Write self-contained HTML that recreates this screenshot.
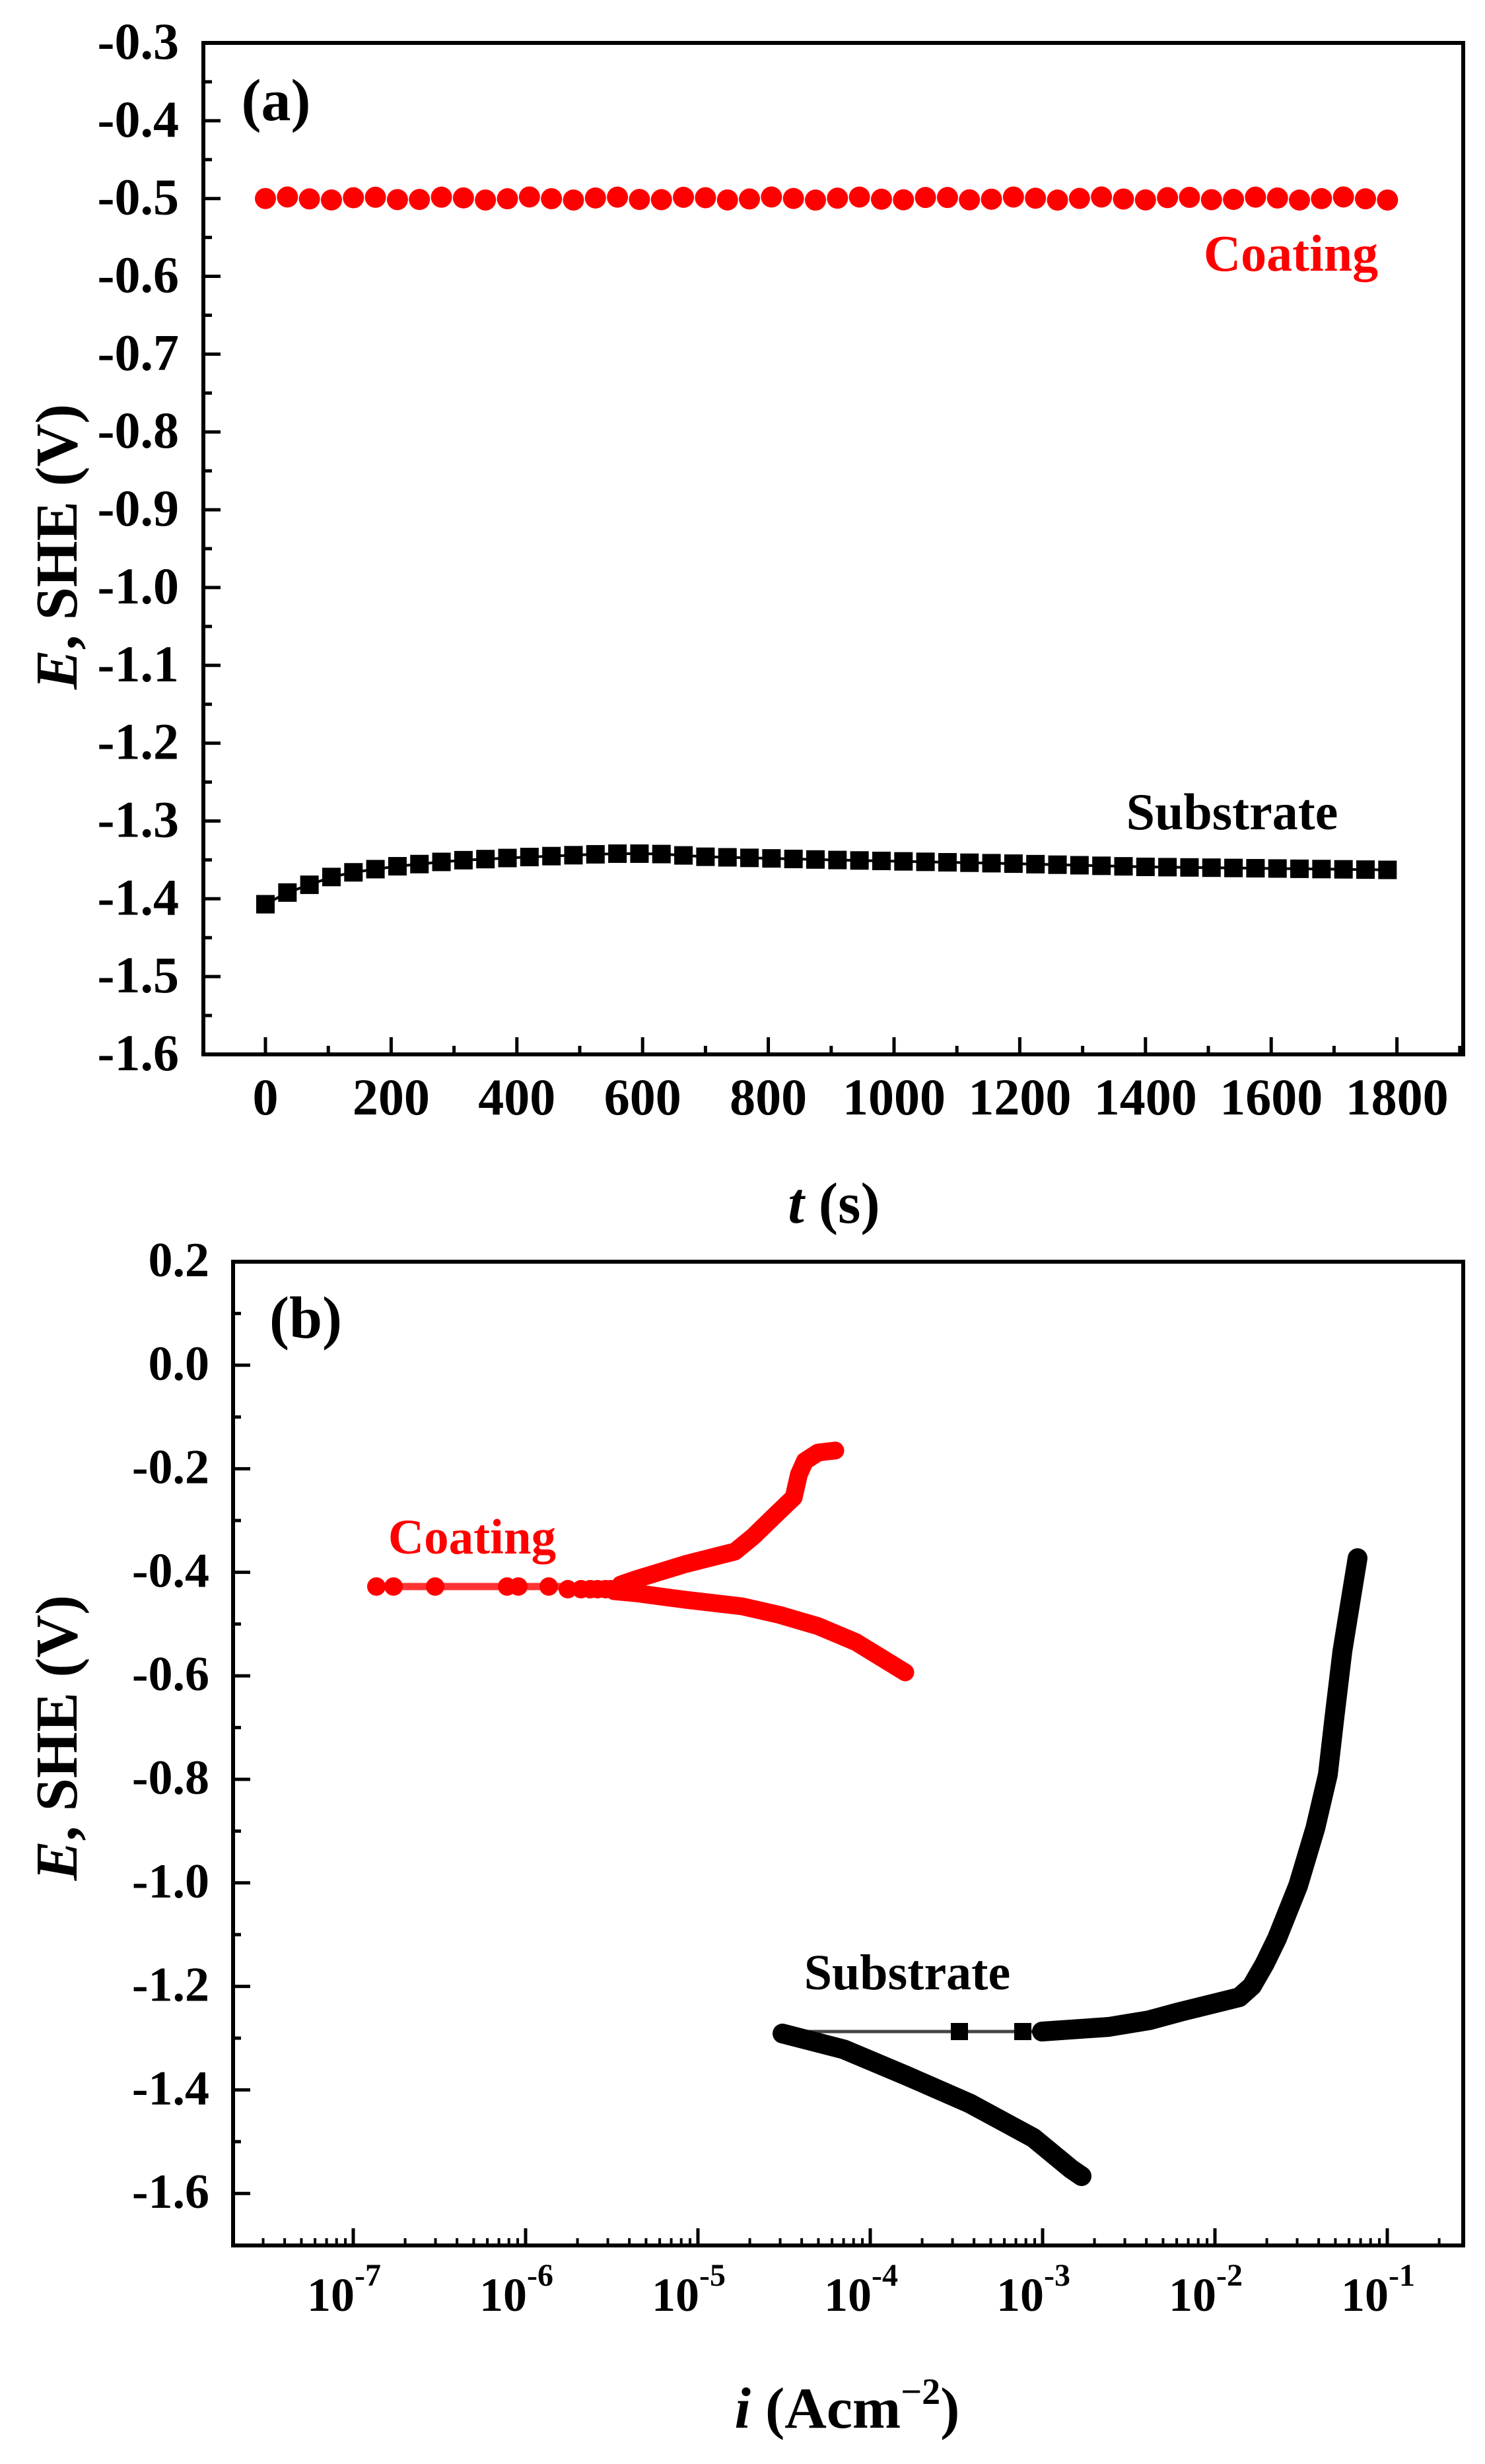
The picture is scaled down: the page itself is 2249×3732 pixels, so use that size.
<!DOCTYPE html>
<html><head><meta charset="utf-8"><style>
html,body{margin:0;padding:0;background:#fff;}
svg{display:block;}
text{font-family:"Liberation Serif",serif;font-weight:bold;}
</style></head><body>
<svg id="s" width="2249" height="3732" viewBox="0 0 2249 3732" xmlns="http://www.w3.org/2000/svg">
<rect width="2249" height="3732" fill="#fff"/>
<g id="g"></g>
<!-- Panel a titles -->
<text x="418" y="182" font-size="90" text-anchor="middle">(a)</text>
<text x="1955" y="410" font-size="78" fill="#ff0000" text-anchor="middle">Coating</text>
<text x="1866" y="1256" font-size="78" text-anchor="middle">Substrate</text>
<text x="1263" y="1852" font-size="88" text-anchor="middle"><tspan font-style="italic">t</tspan> (s)</text>
<text transform="translate(116,828) rotate(-90)" font-size="90" text-anchor="middle"><tspan font-style="italic">E</tspan>, SHE (V)</text>
<!-- Panel b titles -->
<text x="463" y="2026" font-size="90" text-anchor="middle">(b)</text>
<text x="715" y="2353" font-size="75" fill="#ff0000" text-anchor="middle">Coating</text>
<text x="1374" y="3013" font-size="76" text-anchor="middle">Substrate</text>
<text x="1283" y="3677" font-size="88" text-anchor="middle"><tspan font-style="italic">i</tspan> (Acm<tspan font-size="56" dy="-36">−2</tspan><tspan dy="36">)</tspan></text>
<text transform="translate(116,2632) rotate(-90)" font-size="90" text-anchor="middle"><tspan font-style="italic">E</tspan>, SHE (V)</text>
</svg>
<script>
var NS="http://www.w3.org/2000/svg",g=document.getElementById('g');
function el(t,a,txt){var e=document.createElementNS(NS,t);for(var k in a)e.setAttribute(k,a[k]);if(txt!=null)e.textContent=txt;g.appendChild(e);return e;}
function line(x1,y1,x2,y2,w,c){el('line',{x1:x1,y1:y1,x2:x2,y2:y2,stroke:c||'#000','stroke-width':w});}
// ===== Panel a =====
var aL=308,aR=2216,aT=65,aB=1597;
function ay(E){return aT+(-0.3-E)/1.3*(aB-aT);}
function ax(t){return 402+t/200*190.4;}
// y ticks
for(var i=0;i<=26;i++){var E=-0.3-i*0.05,y=ay(E),maj=(i%2==0);
 line(aL,y,aL+(maj?26:13),y,5);
 if(maj) el('text',{x:271,y:y+24,'font-size':78,'text-anchor':'end'},E.toFixed(1).replace('-0.0','0.0'));}
for(var t=0;t<=1900;t+=100){var x=ax(t);if(x>aR-5)break;var maj=(t%200==0);
 line(x,aB,x,aB-(maj?26:13),5);
 if(maj) el('text',{x:x,y:1688,'font-size':78,'text-anchor':'middle'},String(t));}
el('rect',{x:aL,y:aT,width:aR-aL,height:aB-aT,fill:'none',stroke:'#000','stroke-width':6});
// coating points
for(var k=0;k<52;k++){var t=k*35;var E=-0.5+0.002*Math.sin(k*1.7);
 el('circle',{cx:ax(t),cy:ay(E),r:16,fill:'#ff0000'});}
// substrate
var kn=[[0,-1.407],[35,-1.392],[70,-1.382],[105,-1.372],[140,-1.366],[200,-1.359],[300,-1.351],[400,-1.347],[550,-1.342],[620,-1.342],[700,-1.346],[900,-1.350],[1200,-1.355],[1400,-1.359],[1800,-1.363]];
function interp(t){for(var i=0;i<kn.length-1;i++){if(t<=kn[i+1][0]){var f=(t-kn[i][0])/(kn[i+1][0]-kn[i][0]);return kn[i][1]+f*(kn[i+1][1]-kn[i][1]);}}return kn[kn.length-1][1];}
var pts=[];for(var k=0;k<52;k++){pts.push(ax(k*35)+','+ay(interp(k*35)));}
el('polyline',{points:pts.join(' '),fill:'none',stroke:'#000','stroke-width':4});
for(var k=0;k<52;k++){var x=ax(k*35),y=ay(interp(k*35));el('rect',{x:x-14,y:y-14,width:28,height:28,fill:'#000'});}
// ===== Panel b =====
var bL=353,bR=2216,bT=1911,bB=3401;
function by(E){return bT+(0.2-E)*784;}
function bx(l){return 535+(l+7)*261;}
for(var i=0;i<=19;i++){var E=0.2-i*0.1,y=by(E),maj=(i%2==0);
 line(bL,y,bL+(maj?26:12),y,5);
 if(maj){var s=E.toFixed(1);if(s=='-0.0')s='0.0';el('text',{x:317,y:y+22,'font-size':74,'text-anchor':'end'},s);}}
for(var d=-8;d<=-1;d++){for(var m=1;m<=9;m++){var l=d+Math.log10(m),x=bx(l);if(x<=bL+3||x>=bR-3)continue;
 line(x,bB,x,bB-(m==1?26:11),(m==1?5:4));
 if(m==1&&d>=-7){var tx=el('text',{x:x-14,y:3500,'font-size':72,'text-anchor':'middle'});
  tx.textContent='10';var sp=document.createElementNS(NS,'tspan');sp.setAttribute('font-size','48');sp.setAttribute('dy','-38');sp.textContent='-'+(-d);tx.appendChild(sp);}}}
el('rect',{x:bL,y:bT,width:bR-bL,height:bB-bT,fill:'none',stroke:'#000','stroke-width':6});
// coating b
line(570,2403,960,2403,11,'#ff3333');
var cx=[570,596,659,768,785,831,860,894,917,940,880,905,925,950];
cx.forEach(function(x){el('circle',{cx:x,cy:2403+(x>850?4:0),r:14,fill:'#ff0000'});});
var an=[[940,2400],[963,2392],[1038,2369],[1113,2350],[1141,2327],[1176,2293],[1202,2268],[1210,2233],[1219,2213],[1239,2200],[1265,2197]];
var ca=[[930,2410],[963,2413],[1038,2423],[1124,2433],[1181,2446],[1239,2463],[1296,2487],[1371,2533]];
function pl(a,c,w){el('polyline',{points:a.map(function(p){return p.join(',')}).join(' '),fill:'none',stroke:c,'stroke-width':w,'stroke-linejoin':'round','stroke-linecap':'round'});}
pl(an,'#ff0000',27);pl(ca,'#ff0000',27);
// substrate b
line(1190,3077,1600,3077,5,'#444');
el('rect',{x:1440,y:3064,width:26,height:26,fill:'#000'});
el('rect',{x:1536,y:3064,width:26,height:26,fill:'#000'});
var sa=[[1578,3077],[1679,3070],[1740,3060],[1788,3047],[1877,3025],[1896,3008],[1915,2975],[1934,2936],[1966,2856],[1992,2769],[2011,2688],[2021,2601],[2033,2501],[2046,2421],[2056,2360]];
var sc=[[1185,3080],[1278,3104],[1373,3144],[1469,3186],[1565,3238],[1622,3285],[1638,3296]];
pl(sa,'#000',30);pl(sc,'#000',30);
</script>
</body></html>
